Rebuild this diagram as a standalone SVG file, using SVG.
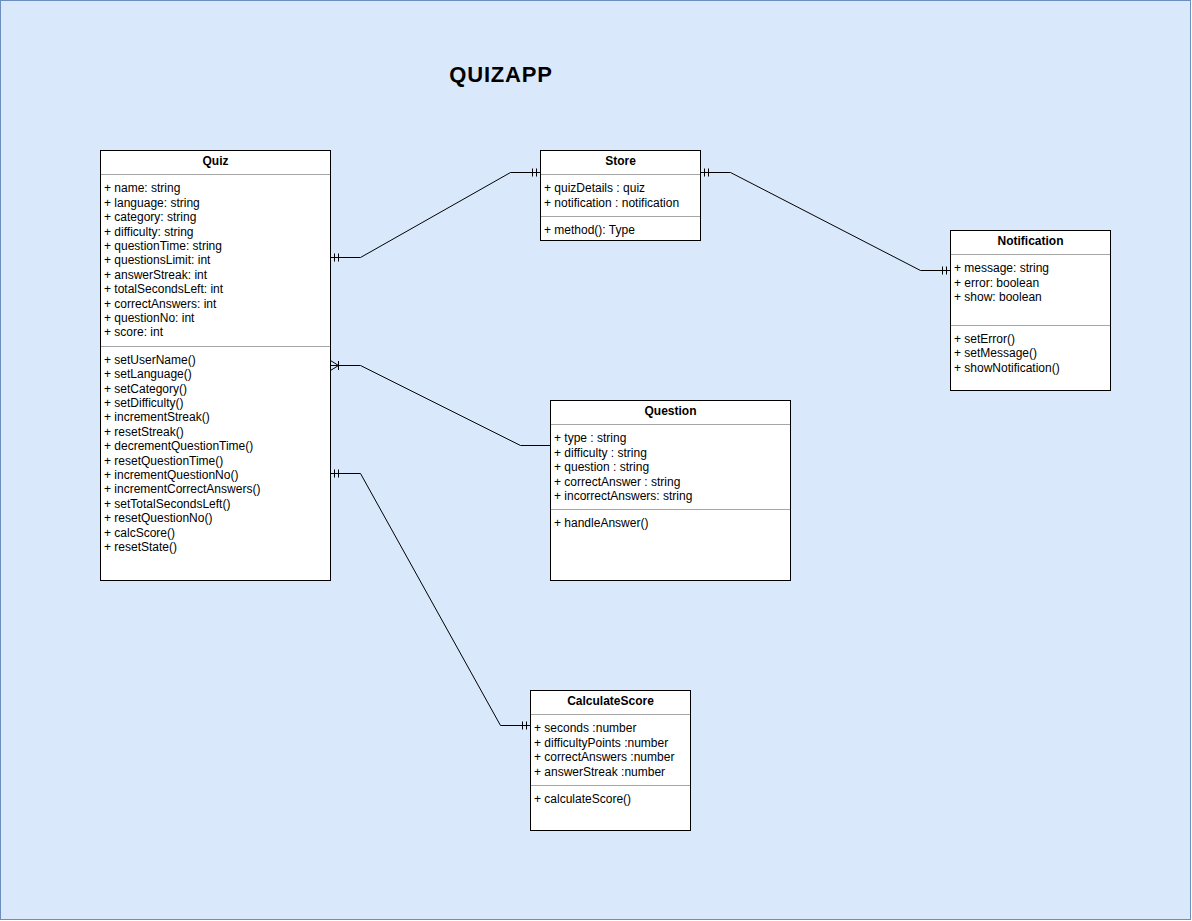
<svg xmlns="http://www.w3.org/2000/svg" width="1192" height="921" viewBox="0 0 1192 921">
<style>
.box{fill:#ffffff;stroke:#000000;stroke-width:1}
.sep{stroke:#000000;stroke-opacity:0.35;stroke-width:1}
.t{font-family:"Liberation Sans",Arial,Helvetica,sans-serif;font-size:12px;fill:#000000}
.h{font-family:"Liberation Sans",Arial,Helvetica,sans-serif;font-size:12px;font-weight:bold;fill:#000000;text-anchor:middle}
.title{font-family:"Liberation Sans",Arial,Helvetica,sans-serif;font-size:22px;font-weight:bold;letter-spacing:0.8px;fill:#000000;text-anchor:middle}
.c{fill:none;stroke:#000000;stroke-width:1}
</style>
<rect x="0.5" y="0.5" width="1190" height="919" fill="#dae8fc" stroke="#6c8ebf" stroke-width="1"/>
<text class="title" x="501" y="82">QUIZAPP</text>

<g id="connectors">
  <!-- Quiz - Store -->
  <polyline class="c" points="330.5,257.5 360.5,257.5 510.5,172.5 540.5,172.5"/>
  <path class="c" d="M334.5,253.5V261.5M338.5,253.5V261.5M532.5,168.5V176.5M536.5,168.5V176.5"/>
  <!-- Store - Notification -->
  <polyline class="c" points="700.5,172.5 730.5,172.5 920.5,270.5 950.5,270.5"/>
  <path class="c" d="M704.5,168.5V176.5M708.5,168.5V176.5M942.5,266.5V274.5M946.5,266.5V274.5"/>
  <!-- Quiz - Question -->
  <polyline class="c" points="330.5,365.5 360.5,365.5 520.5,445.5 550.5,445.5"/>
  <path class="c" d="M330.5,360.5L338.5,365.5L330.5,370.5M338.5,361V370"/>
  <!-- Quiz - CalculateScore -->
  <polyline class="c" points="330.5,473.5 360.5,473.5 500.5,725.5 530.5,725.5"/>
  <path class="c" d="M334.5,469.5V477.5M338.5,469.5V477.5M522.5,721.5V729.5M526.5,721.5V729.5"/>
</g>

<g id="quiz">
  <rect class="box" x="100.5" y="150.5" width="230" height="430"/>
  <text class="h" x="215.5" y="165">Quiz</text>
  <line class="sep" x1="100.5" y1="174.5" x2="330.5" y2="174.5"/>
  <text class="t" x="104" y="192">+ name: string</text>
  <text class="t" x="104" y="207">+ language: string</text>
  <text class="t" x="104" y="221">+ category: string</text>
  <text class="t" x="104" y="236">+ difficulty: string</text>
  <text class="t" x="104" y="250">+ questionTime: string</text>
  <text class="t" x="104" y="264">+ questionsLimit: int</text>
  <text class="t" x="104" y="279">+ answerStreak: int</text>
  <text class="t" x="104" y="293">+ totalSecondsLeft: int</text>
  <text class="t" x="104" y="308">+ correctAnswers: int</text>
  <text class="t" x="104" y="322">+ questionNo: int</text>
  <text class="t" x="104" y="336">+ score: int</text>
  <line class="sep" x1="100.5" y1="346.5" x2="330.5" y2="346.5"/>
  <text class="t" x="104" y="364">+ setUserName()</text>
  <text class="t" x="104" y="378">+ setLanguage()</text>
  <text class="t" x="104" y="393">+ setCategory()</text>
  <text class="t" x="104" y="407">+ setDifficulty()</text>
  <text class="t" x="104" y="421">+ incrementStreak()</text>
  <text class="t" x="104" y="436">+ resetStreak()</text>
  <text class="t" x="104" y="450">+ decrementQuestionTime()</text>
  <text class="t" x="104" y="465">+ resetQuestionTime()</text>
  <text class="t" x="104" y="479">+ incrementQuestionNo()</text>
  <text class="t" x="104" y="493">+ incrementCorrectAnswers()</text>
  <text class="t" x="104" y="508">+ setTotalSecondsLeft()</text>
  <text class="t" x="104" y="522">+ resetQuestionNo()</text>
  <text class="t" x="104" y="537">+ calcScore()</text>
  <text class="t" x="104" y="551">+ resetState()</text>
</g>

<g id="store">
  <rect class="box" x="540.5" y="150.5" width="160" height="90"/>
  <text class="h" x="620.5" y="165">Store</text>
  <line class="sep" x1="540.5" y1="174.5" x2="700.5" y2="174.5"/>
  <text class="t" x="544" y="192">+ quizDetails : quiz</text>
  <text class="t" x="544" y="207">+ notification : notification</text>
  <line class="sep" x1="540.5" y1="216.5" x2="700.5" y2="216.5"/>
  <text class="t" x="544" y="234">+ method(): Type</text>
</g>

<g id="notification">
  <rect class="box" x="950.5" y="230.5" width="160" height="160"/>
  <text class="h" x="1030.5" y="245">Notification</text>
  <line class="sep" x1="950.5" y1="254.5" x2="1110.5" y2="254.5"/>
  <text class="t" x="954" y="272">+ message: string</text>
  <text class="t" x="954" y="287">+ error: boolean</text>
  <text class="t" x="954" y="301">+ show: boolean</text>
  <line class="sep" x1="950.5" y1="325.5" x2="1110.5" y2="325.5"/>
  <text class="t" x="954" y="343">+ setError()</text>
  <text class="t" x="954" y="357">+ setMessage()</text>
  <text class="t" x="954" y="372">+ showNotification()</text>
</g>

<g id="question">
  <rect class="box" x="550.5" y="400.5" width="240" height="180"/>
  <text class="h" x="670.5" y="415">Question</text>
  <line class="sep" x1="550.5" y1="424.5" x2="790.5" y2="424.5"/>
  <text class="t" x="554" y="442">+ type : string</text>
  <text class="t" x="554" y="457">+ difficulty : string</text>
  <text class="t" x="554" y="471">+ question : string</text>
  <text class="t" x="554" y="486">+ correctAnswer : string</text>
  <text class="t" x="554" y="500">+ incorrectAnswers: string</text>
  <line class="sep" x1="550.5" y1="509.5" x2="790.5" y2="509.5"/>
  <text class="t" x="554" y="527">+ handleAnswer()</text>
</g>

<g id="calculatescore">
  <rect class="box" x="530.5" y="690.5" width="160" height="140"/>
  <text class="h" x="610.5" y="705">CalculateScore</text>
  <line class="sep" x1="530.5" y1="714.5" x2="690.5" y2="714.5"/>
  <text class="t" x="534" y="732">+ seconds :number</text>
  <text class="t" x="534" y="747">+ difficultyPoints :number</text>
  <text class="t" x="534" y="761">+ correctAnswers :number</text>
  <text class="t" x="534" y="776">+ answerStreak :number</text>
  <line class="sep" x1="530.5" y1="785.5" x2="690.5" y2="785.5"/>
  <text class="t" x="534" y="803">+ calculateScore()</text>
</g>
</svg>
